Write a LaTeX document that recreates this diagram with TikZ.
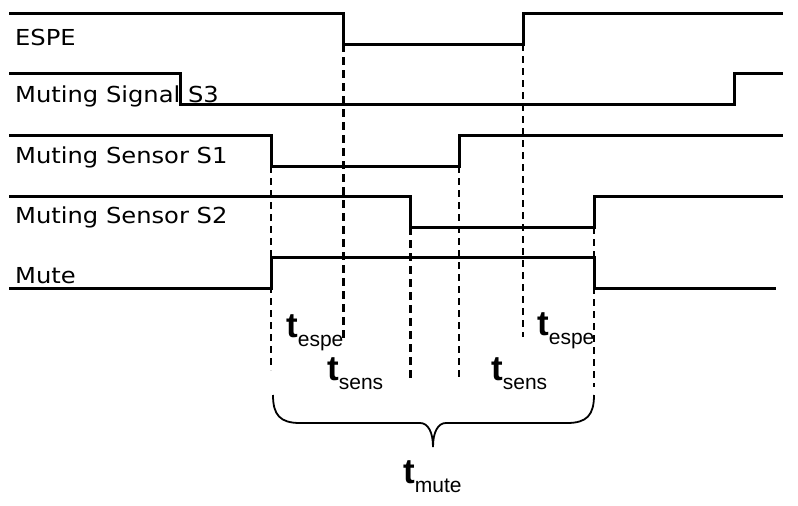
\documentclass[tikz,border=0pt]{standalone}
\usepackage{fontspec}
\newfontfamily\sigfont[FakeStretch=1.1]{DejaVu Sans}
\newfontfamily\tfont{Liberation Sans}
\newcommand{\tlab}[1]{{\tfont\fontsize{35}{35}\selectfont\bfseries t}\raisebox{-9pt}{\tfont\fontsize{21}{21}\selectfont #1}}
\begin{document}
\begin{tikzpicture}[x=1pt,y=-1pt,
  sig/.style={line width=3pt, line join=miter, black},
  thindash/.style={line width=1.8pt, dash pattern=on 7pt off 5pt, black},
  thickdash/.style={line width=3pt, dash pattern=on 8pt off 5pt, black},
  siglabel/.style={anchor=base west, inner sep=0pt, font=\sigfont\fontsize{22}{22}\selectfont},
  tlabel/.style={anchor=base west, inner sep=0pt},
  bracestyle/.style={line width=1.8pt, black}]
\useasboundingbox (0,0) rectangle (798,506);
\fill[white] (0,0) rectangle (798,506);

% signal labels
\node[siglabel] (lESPE) at (15,45) {ESPE};
\node[siglabel] (lS3) at (15,102) {Muting Signal S3};
\node[siglabel] (lS1) at (15,163) {Muting Sensor S1};
\node[siglabel] (lS2) at (15,223) {Muting Sensor S2};
\node[siglabel] (lMute) at (15,283) {Mute};

% key coordinates
\coordinate (espeFall) at (343,44);
\coordinate (espeRise) at (523,44);
\coordinate (s1Fall) at (271,166);
\coordinate (s1Rise) at (459,166);
\coordinate (s2Fall) at (410,227);
\coordinate (s2Rise) at (594,227);

\coordinate (d1end) at (271,370);
\coordinate (d2end) at (343,340);
\coordinate (d3end) at (410,380);
\coordinate (d4end) at (459,378);
\coordinate (d5end) at (523,337);
\coordinate (d6end) at (594,387);

% dashed markers
\draw[thindash] (s1Fall) -- (d1end);
\draw[thickdash] (espeFall) -- (d2end);
\draw[thickdash] (s2Fall) -- (d3end);
\draw[thindash] (s1Rise) -- (d4end);
\draw[thindash] (espeRise) -- (d5end);
\draw[thindash] (s2Rise) -- (d6end);

% waveforms
\draw[sig] (9,13) -- (343,13) -- (espeFall) -- (espeRise) -- (523,13) -- (783,13);
\draw[sig] (9,73) -- (180,73) -- (180,104) -- (734,104) -- (734,73) -- (783,73);
\draw[sig] (9,135) -- (271,135) -- (s1Fall) -- (s1Rise) -- (459,135) -- (783,135);
\draw[sig] (9,196) -- (410,196) -- (s2Fall) -- (s2Rise) -- (594,196) -- (783,196);
\draw[sig] (9,288) -- (271,288) -- (271,257) -- (594,257) -- (594,288) -- (776,288);

% time labels
\node[tlabel] (te1) at (286,337) {\tlab{espe}};
\node[tlabel] (ts1) at (327,380) {\tlab{sens}};
\node[tlabel] (te2) at (537,335) {\tlab{espe}};
\node[tlabel] (ts2) at (491,380) {\tlab{sens}};
\node[tlabel] (tm) at (403,483) {\tlab{mute}};

% brace
\coordinate (bl) at (273,395);
\coordinate (br) at (594,395);
\coordinate (btip) at (433,447);
\draw[bracestyle] (bl) .. controls (273,415) and (280,423) .. (300,423) -- (420,423)
  .. controls (428,423) and (433,432) .. (btip)
  .. controls (433,432) and (438,423) .. (446,423) -- (567,423)
  .. controls (587,423) and (594,415) .. (br);
\end{tikzpicture}
\end{document}
